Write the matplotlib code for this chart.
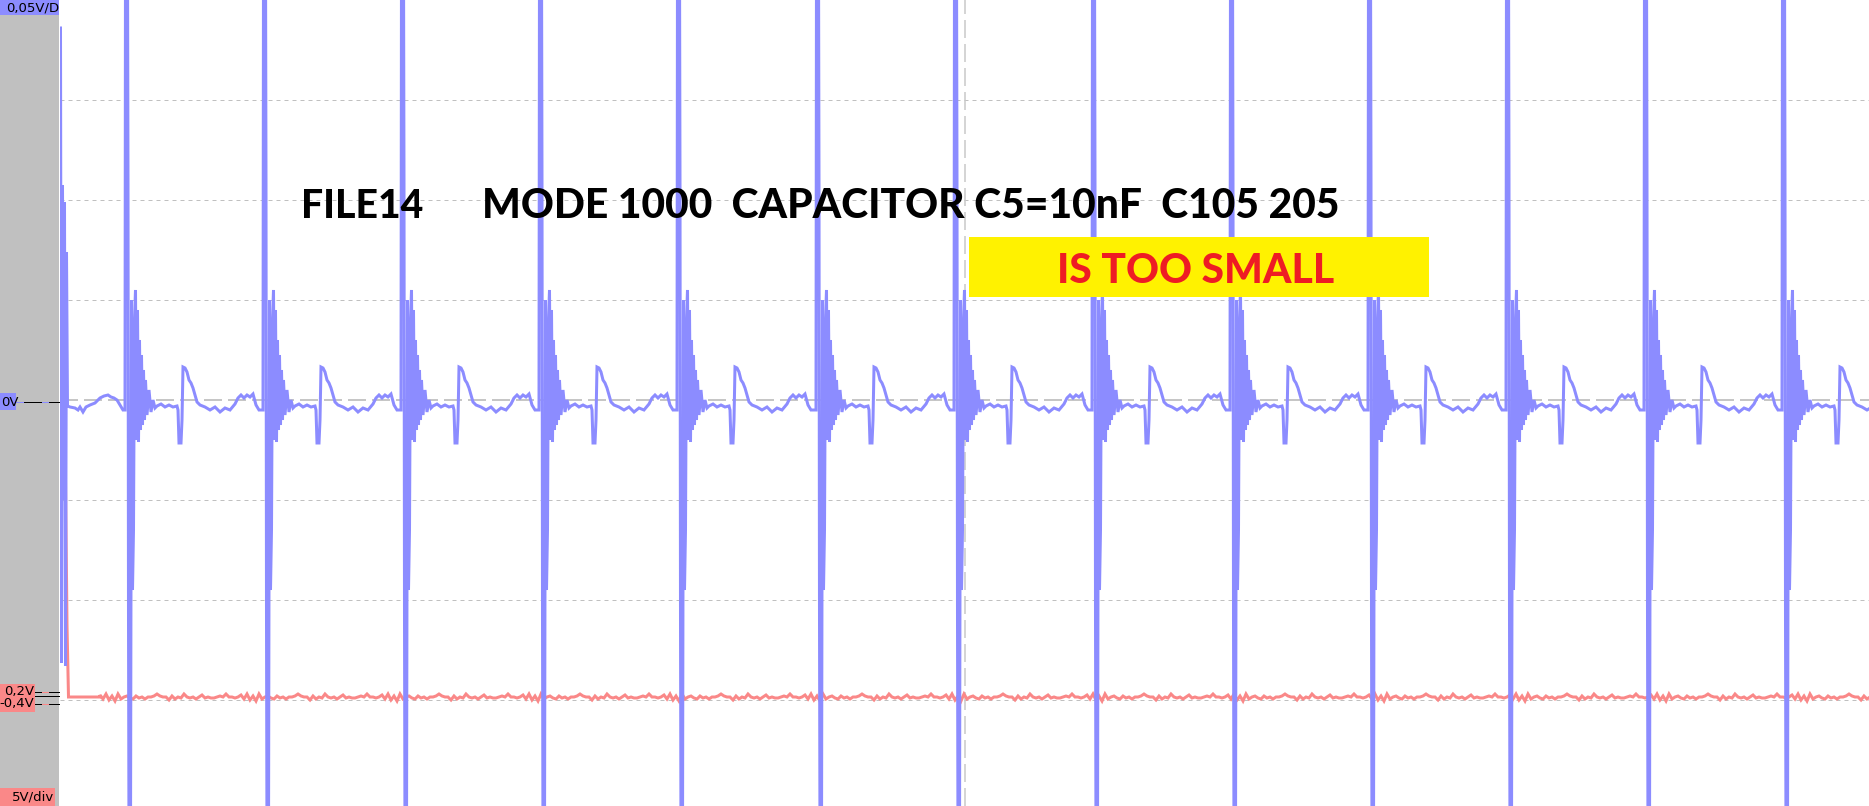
import matplotlib
matplotlib.use("Agg")
import matplotlib.pyplot as plt
from matplotlib.patches import Rectangle
import numpy as np

# =========================
# SCREEN GEOMETRY (pixels of the scope screenshot)
# =========================
W, H = 1869, 806
PANEL = 60          # grey channel-label strip on the left
DIV = 100           # pixels per division

# =========================
# DATA (time and voltage in screen divisions)
# =========================
# times of the big switching spikes on the blue channel
spike_times = [0.65, 2.03, 3.41, 4.79, 6.17, 7.56, 8.94, 10.32, 11.70, 13.08, 14.46, 15.84, 17.22]

# one period of the blue trace, offsets from a spike
period_dt = [0.000, 0.005, 0.025, 0.030, 0.035, 0.040, 0.055, 0.060, 0.065,
             0.075, 0.085, 0.095, 0.105, 0.115, 0.125, 0.135, 0.145, 0.155,
             0.165, 0.175, 0.185, 0.195, 0.205, 0.22, 0.24, 0.26, 0.28, 0.30,
             0.32, 0.36, 0.40, 0.44, 0.48, 0.52, 0.53, 0.54, 0.56, 0.57, 0.58,
             0.60, 0.62, 0.64, 0.66, 0.68, 0.70, 0.72, 0.75, 0.80, 0.85, 0.90,
             0.95, 1.00, 1.05, 1.10, 1.13, 1.16, 1.19, 1.22, 1.25, 1.28, 1.31,
             1.34, 1.37]
period_v = [-0.10, 4.5, 4.5, 2.2, -2.2, -4.5, -4.5, -1.8, 1.0,
            -1.9, -1.3, 0.8, 1.1, -0.40, 0.9, -0.42, 0.6, -0.30,
            0.45, -0.25, 0.30, -0.20, 0.20, -0.15, 0.10, -0.12, 0.0, -0.08,
            -0.06, -0.04, -0.07, -0.05, -0.07, -0.06, -0.10, -0.43, -0.43, -0.20, 0.33,
            0.32, 0.28, 0.20, 0.17, 0.12, 0.05, -0.02, -0.05, -0.07, -0.10, -0.07,
            -0.12, -0.08, -0.10, -0.04, 0.02, 0.05, 0.02, 0.05, 0.03, 0.06, -0.05,
            -0.10, -0.10]

# power-up transient before the first spike (blue)
start_t = [0.005, 0.015, 0.025, 0.035, 0.045, 0.055, 0.065, 0.075, 0.10, 0.15,
           0.18, 0.20, 0.23, 0.26, 0.30, 0.35, 0.40, 0.44, 0.48, 0.51, 0.54,
           0.57, 0.60, 0.63]
start_v = [3.72, -2.63, 2.15, -1.0, 1.98, -2.66, 1.48, -0.06, -0.07, -0.08,
           -0.10, -0.07, -0.12, -0.07, -0.05, -0.03, 0.02, 0.04, 0.05, 0.03, 0.02,
           0.0, -0.05, -0.10]

# red channel: drop at power-up, then flat with small ripple
red_start_t = [0.0, 0.05, 0.055, 0.07, 0.085, 0.40]
red_start_v = [-0.08, -0.08, -0.80, -2.25, -2.97, -2.97]
red_level = -2.97
red_ripple = [0.02, -0.02, 0.03, -0.03, 0.01, -0.04, 0.03, -0.02, 0.0, 0.01,
              -0.01, -0.02, 0.01, -0.01, 0.0, -0.02, 0.0, 0.0, 0.01, 0.03,
              0.01, 0.0, 0.0, -0.03, 0.01, -0.02, 0.0, -0.01, 0.03, 0.0,
              -0.01, 0.0, -0.02, 0.0, 0.02, -0.01, 0.0, -0.01, -0.01, 0.0,
              0.01, 0.0, 0.03, 0.0, 0.0, -0.01, 0.0]
ripple_step = 0.03

cursor_t = 9.05
grid_levels = [-3, -2, -1, 1, 2, 3]

title_left = "FILE14"
title_right = "MODE 1000  CAPACITOR C5=10nF  C105 205"
warning_text = "IS TOO SMALL"
ch1_scale = "0,05V/Div"
ch1_zero = "0V"
ch2_labels = ["0,2V", "-0,4V"]
ch2_scale = "5V/div"

BLUE = "#8c8cff"
RED = "#fa8888"
GREY = "#c0c0c0"

# =========================
# BUILD TRACES
# =========================
blue_t = list(start_t)
blue_v = list(start_v)
for s in spike_times:
    blue_t += [s + d for d in period_dt]
    blue_v += period_v

span = (W - PANEL) / DIV
rip_t = np.arange(red_start_t[-1], span + ripple_step, ripple_step)
rip_v = [red_level + red_ripple[i % len(red_ripple)] for i in range(len(rip_t))]
red_t = red_start_t + list(rip_t)
red_v = red_start_v + rip_v

# =========================
# FIGURE
# =========================
fig = plt.figure(figsize=(W / 100, H / 100), dpi=100)
fig.patch.set_facecolor("white")

ax = fig.add_axes([PANEL / W, 0, 1 - PANEL / W, 1])
ax.set_xlim(0, span)
ax.set_ylim(-(H - 400) / DIV, 400 / DIV)
ax.axis("off")

px = 0.72  # points per pixel
for g in grid_levels:
    ax.axhline(g, color=GREY, lw=1 * px, ls=(0, (4, 4)), zorder=1)
ax.axhline(0, color="#b4b4b4", lw=1.5 * px, ls=(0, (12, 4)), zorder=1)
ax.axvline(cursor_t, color="#c8c8c8", lw=1.5 * px, ls=(0, (12, 4)), zorder=1)

ax.plot(red_t, red_v, color=RED, lw=3 * px, zorder=3, solid_joinstyle="miter")
ax.plot(blue_t, blue_v, color=BLUE, lw=3 * px, zorder=4, solid_joinstyle="miter")

# annotation texts (sized to fit the widths seen on the screenshot)
font = ["Lato", "DejaVu Sans"]
renderer = fig.canvas.get_renderer()


def fitted_text(x, y, s, width, **kw):
    t = fig.text(x / W, 1 - y / H, s, fontsize=30, family=font, weight="black",
                 va="baseline", **kw)
    w = t.get_window_extent(renderer).width
    t.set_fontsize(30 * width / w)
    return t


fitted_text(301, 218, title_left, 122, color="black", zorder=2)
fitted_text(482, 218, title_right, 855, color="black", zorder=2)

fig.patches.append(Rectangle((969 / W, 1 - 297 / H), 460 / W, 60 / H,
                             transform=fig.transFigure, facecolor="#fff200",
                             edgecolor="none", zorder=5))
fitted_text(1196, 283, warning_text, 277, color="#ee1c24", ha="center", zorder=6)

# =========================
# LEFT CHANNEL PANEL
# =========================
pa = fig.add_axes([0, 0, PANEL / W, 1])
pa.set_xlim(0, PANEL)
pa.set_ylim(H, 0)
pa.axis("off")
pa.add_patch(Rectangle((0, 0), 59, H, facecolor=GREY, edgecolor="none"))

small = dict(fontsize=9.5, family="DejaVu Sans", color="black")
pa.add_patch(Rectangle((0, 0), 59, 15, facecolor=BLUE, edgecolor="none"))
pa.text(6, 8, ch1_scale, va="center", ha="left", clip_on=True, **small)

pa.add_patch(Rectangle((0, 393), 16, 17, facecolor=BLUE, edgecolor="none"))
pa.text(1, 402, ch1_zero, va="center", ha="left", **small)
pa.plot([16, 60], [402, 402], color="black", lw=1 * px)
pa.plot([16, 23], [402, 402], color=BLUE, lw=1 * px)
pa.plot([42, 48], [402, 402], color=BLUE, lw=1 * px)

pa.add_patch(Rectangle((0, 684), 35, 28, facecolor=RED, edgecolor="none"))
pa.text(34, 691, ch2_labels[0], va="center", ha="right", **small)
pa.text(34, 703, ch2_labels[1], va="center", ha="right", **small)
for yy in (692, 696, 704):
    pa.plot([35, 60], [yy, yy], color="black", lw=1 * px)
for yy in (692, 704):
    pa.plot([42, 48], [yy, yy], color=RED, lw=1 * px)

pa.add_patch(Rectangle((0, 788), 55, 18, facecolor=RED, edgecolor="none"))
pa.text(54, 797, ch2_scale, va="center", ha="right", **small)

fig.savefig("out.png", dpi=100)
